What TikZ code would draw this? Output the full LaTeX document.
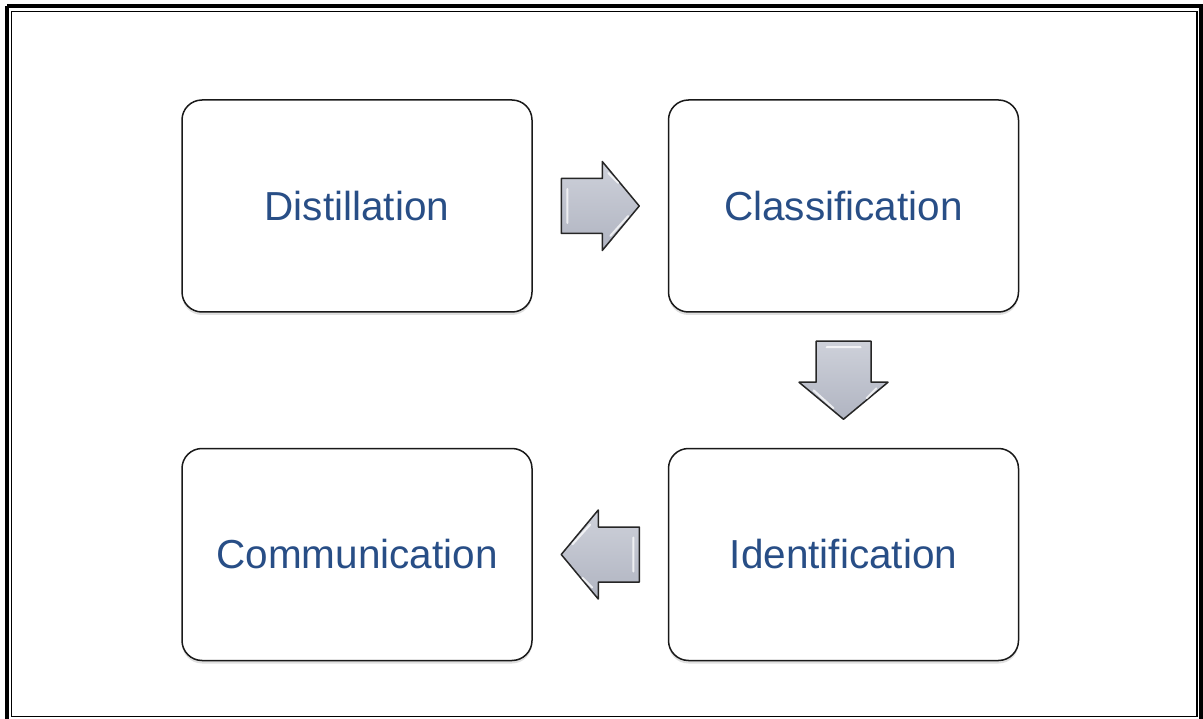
\documentclass[tikz,border=0pt]{standalone}
\usepackage{fontspec}
\setmainfont{Liberation Sans}
\usetikzlibrary{positioning,calc,shadows}

\definecolor{textblue}{RGB}{40,78,134}
\definecolor{arrowgrey}{RGB}{176,180,193}
\definecolor{arrowlight}{RGB}{206,209,218}

\tikzset{
  stagebox/.style={rectangle, rounded corners=20pt, draw=black!90, line width=1.5pt,
    fill=white, minimum width=350pt, minimum height=212pt,
    text=textblue, font=\fontsize{40.5}{44}\selectfont,
    drop shadow={shadow xshift=0pt, shadow yshift=-3pt, opacity=0.25}},
  pics/blockarrow/.style={code={
    \path[draw=black!85, line width=1.5pt, line join=round, top color=arrowlight, bottom color=arrowgrey]
      (-39,27.5) -- (2,27.5) -- (2,44.5) -- (39,0) -- (2,-44.5) -- (2,-27.5) -- (-39,-27.5) -- cycle;
    \draw[white, opacity=0.75, line width=2pt, line cap=round]
      (-33,17) -- (-33,-17) (10,-30) -- (28,-10) (8,33) -- (18,23);
  }}
}

\begin{document}
\begin{tikzpicture}[x=1pt, y=1pt]
      \useasboundingbox (0,0) rectangle (1203,-719);

      % frame
      \draw[line width=4pt] (7,-6.5) -- (1201,-6.5) -- (1201,-725) (7,-725) -- (7,-6.5);
      \draw[line width=1.4pt] (11.5,-11.5) rectangle (1197,-716.5);

      \node[stagebox] (dist) at (357, -206) {Distillation};
      \node[stagebox] (class) [right = 135pt of dist] {Classification};
      \node[stagebox] (ident) [below = 135pt of class] {Identification};
      \node[stagebox] (comm) [left = 135pt of ident] {Communication};

      % arrows between the boxes
      \pic at ($(dist.east)!0.5!(class.west)$) {blockarrow};
      \pic[rotate=-90] at ($(class.south)!0.5!(ident.north)$) {blockarrow};
      \pic[rotate=180] at ($(ident.west)!0.5!(comm.east)$) {blockarrow};
    \end{tikzpicture}
\end{document}
